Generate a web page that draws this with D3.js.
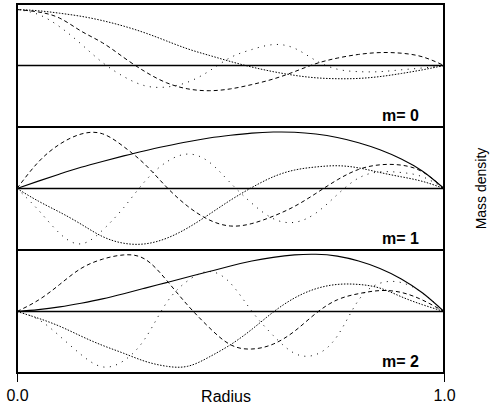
<!DOCTYPE html>
<html lang="en">
<head>
<meta charset="utf-8">
<title>Mass density modes</title>
<script src="https://cdn.jsdelivr.net/npm/d3@7/dist/d3.min.js"></script>
<style>
  body { margin: 0; background: #fff; }
  svg text { font-family: "Liberation Sans", Arial, Helvetica, sans-serif; fill: #000; }
</style>
</head>
<body>
<div id="chart"></div>
<script>
// radius samples (shared by every curve)
var radius = [0, 0.05, 0.1, 0.15, 0.2, 0.25, 0.3, 0.35, 0.4, 0.45, 0.5,
              0.55, 0.6, 0.65, 0.7, 0.75, 0.8, 0.85, 0.9, 0.95, 1];

// m = 0
var m0Fine   = [0.91, 0.89, 0.85, 0.80, 0.73, 0.64, 0.53, 0.40, 0.27, 0.165, 0.065,
                -0.025, -0.10, -0.16, -0.20, -0.215, -0.21, -0.18, -0.13, -0.07, 0];
var m0Dashed = [0.91, 0.87, 0.77, 0.56, 0.37, 0.13, -0.10, -0.28, -0.38, -0.41, -0.38,
                -0.31, -0.22, -0.10, 0.03, 0.12, 0.18, 0.21, 0.20, 0.14, 0];
var m0Sparse = [0.91, 0.83, 0.63, 0.35, 0.05, -0.18, -0.33, -0.35, -0.27, -0.09, 0.13,
                0.26, 0.34, 0.28, 0.08, -0.06, -0.10, -0.10, -0.07, -0.04, 0];

// m = 1
var m1Solid  = [0, 0.12, 0.235, 0.345, 0.44, 0.53, 0.615, 0.69, 0.76, 0.82, 0.865,
                0.9, 0.918, 0.915, 0.885, 0.83, 0.745, 0.63, 0.48, 0.28, 0];
var m1Dashed = [0, 0.43, 0.72, 0.885, 0.89, 0.68, 0.39, 0.025, -0.29, -0.51, -0.61,
                -0.57, -0.45, -0.29, -0.08, 0.14, 0.31, 0.385, 0.38, 0.27, 0];
var m1Fine   = [0, -0.205, -0.385, -0.58, -0.78, -0.89, -0.90, -0.81, -0.64, -0.42, -0.19,
                0.016, 0.19, 0.30, 0.35, 0.37, 0.335, 0.26, 0.19, 0.115, 0];
var m1Sparse = [0, -0.35, -0.73, -0.90, -0.68, -0.31, 0.12, 0.43, 0.56, 0.43, 0.09,
                -0.24, -0.49, -0.55, -0.40, -0.10, 0.17, 0.27, 0.26, 0.19, 0];

// m = 2
var m2Solid  = [0, 0.03, 0.075, 0.135, 0.205, 0.29, 0.38, 0.47, 0.56, 0.65, 0.74,
                0.82, 0.88, 0.92, 0.93, 0.9, 0.82, 0.7, 0.53, 0.3, 0];
var m2Dashed = [0, 0.185, 0.44, 0.70, 0.85, 0.92, 0.85, 0.51, 0.10, -0.26, -0.54,
                -0.61, -0.53, -0.32, -0.03, 0.19, 0.29, 0.34, 0.31, 0.185, 0];
var m2Fine   = [0, -0.11, -0.24, -0.40, -0.55, -0.68, -0.81, -0.89, -0.89, -0.74, -0.54,
                -0.29, -0.01, 0.22, 0.37, 0.44, 0.44, 0.38, 0.24, 0.11, 0];
var m2Sparse = [0, -0.13, -0.40, -0.70, -0.90, -0.80, -0.44, 0.14, 0.50, 0.65, 0.46,
                0.005, -0.39, -0.68, -0.70, -0.40, 0.185, 0.46, 0.47, 0.30, 0];

var modeLabels = ["m= 0", "m= 1", "m= 2"];
var tickLabels = ["0.0", "1.0"];

var panels = [
  [{v: m0Fine, s: "fine"}, {v: m0Dashed, s: "dashed"}, {v: m0Sparse, s: "sparse"}],
  [{v: m1Solid, s: "solid"}, {v: m1Dashed, s: "dashed"}, {v: m1Fine, s: "fine"}, {v: m1Sparse, s: "sparse"}],
  [{v: m2Solid, s: "solid"}, {v: m2Dashed, s: "dashed"}, {v: m2Fine, s: "fine"}, {v: m2Sparse, s: "sparse"}]
];

var dash = {solid: null, dashed: "4,3", fine: "1.5,1.5", sparse: "1,5.5"};

var width = 490, height = 408;
var plotLeft = 17, plotRight = 444, plotTop = 4, panelH = 123;

var x = d3.scaleLinear().domain([0, 1]).range([plotLeft, plotRight]);

var svg = d3.select("#chart").append("svg")
  .attr("width", width)
  .attr("height", height);

panels.forEach(function(series, i) {
  var y0 = plotTop + panelH * i;
  var y = d3.scaleLinear().domain([-1, 1]).range([y0 + panelH, y0]);
  var g = svg.append("g");

  var line = d3.line()
    .x(function(d, k) { return x(radius[k]); })
    .y(function(d) { return y(d); })
    .curve(d3.curveNatural);

  series.forEach(function(s) {
    g.append("path")
      .datum(s.v)
      .attr("d", line)
      .attr("fill", "none")
      .attr("stroke", "#000")
      .attr("stroke-width", s.s == "solid" ? 1.1 : 1)
      .attr("stroke-dasharray", dash[s.s]);
  });

  // zero line
  g.append("line")
    .attr("x1", plotLeft).attr("x2", plotRight)
    .attr("y1", y(0)).attr("y2", y(0))
    .attr("stroke", "#000")
    .attr("stroke-width", 1.5);

  // panel frame
  g.append("rect")
    .attr("x", plotLeft).attr("y", y0)
    .attr("width", plotRight - plotLeft).attr("height", panelH)
    .attr("fill", "none")
    .attr("stroke", "#000")
    .attr("stroke-width", 2);

  g.append("text")
    .attr("x", 419)
    .attr("y", y0 + panelH - 6)
    .attr("text-anchor", "end")
    .style("font-size", "16px")
    .style("font-weight", "bold")
    .text(modeLabels[i]);
});

var axis = d3.axisBottom(x)
  .tickValues([0, 1])
  .tickFormat(function(d, k) { return tickLabels[k]; })
  .tickSize(9)
  .tickPadding(8);

var ax = svg.append("g")
  .attr("transform", "translate(0," + (plotTop + panelH * 3) + ")")
  .call(axis);
ax.select(".domain").remove();
ax.selectAll("text").style("font-size", "16px").attr("font-family", null);
ax.selectAll("line").attr("stroke", "#000");

svg.append("text")
  .attr("x", 226)
  .attr("y", 402)
  .attr("text-anchor", "middle")
  .style("font-size", "16px")
  .text("Radius");

svg.append("text")
  .attr("transform", "translate(486," + (plotTop + panelH * 1.5) + ") rotate(-90)")
  .attr("text-anchor", "middle")
  .style("font-size", "14px")
  .text("Mass density");
</script>
</body>
</html>
